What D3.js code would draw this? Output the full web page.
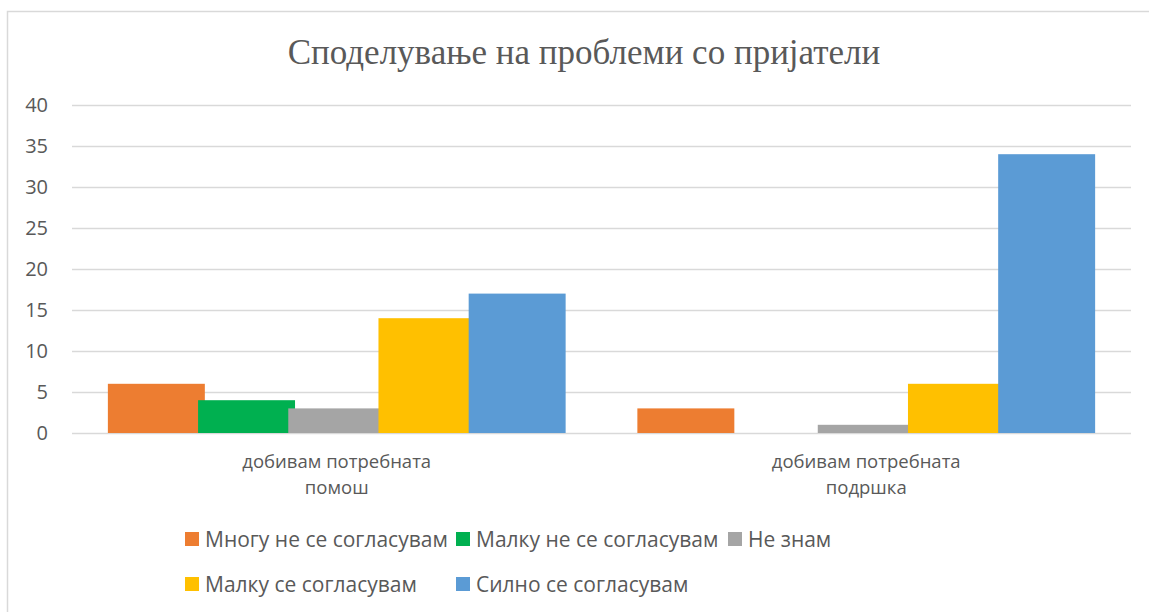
<!DOCTYPE html>
<html><head><meta charset="utf-8">
<script src="https://cdn.jsdelivr.net/npm/d3@7"></script>
<style>html,body{margin:0;padding:0;background:#fff;}svg{display:block;}</style>
</head><body>
<svg id="c" width="1149" height="612"></svg>
<script>
const title = "Споделување на проблеми со пријатели";
const categories = [["добивам потребната","помош"],["добивам потребната","подршка"]];
const series = ["Многу не се согласувам","Малку не се согласувам","Не знам","Малку се согласувам","Силно се согласувам"];
const colors = ["#ED7D31","#00B050","#A5A5A5","#FFC000","#5B9BD5"];
const valuesMnogu = [6, 3];
const valuesMalkuNe = [4, 0];
const valuesNeZnam = [3, 1];
const valuesMalkuSe = [14, 6];
const valuesSilno = [17, 34];
const yTicks = [0,5,10,15,20,25,30,35,40];

const allValues = [valuesMnogu, valuesMalkuNe, valuesNeZnam, valuesMalkuSe, valuesSilno];
const svg = d3.select("#c");
const font = "'Open Sans', 'Noto Sans', sans-serif";
const textColor = "#595959";

// chart border
svg.append("rect").attr("x",7.5).attr("y",11.5).attr("width",1160).attr("height",620)
  .attr("fill","#fff").attr("stroke","#D9D9D9").attr("stroke-width",1.5);

svg.append("text").attr("x",584).attr("y",64).attr("text-anchor","middle")
  .attr("font-family","'Liberation Serif','Times New Roman',serif").attr("font-size",35)
  .attr("fill",textColor).text(title);

const pLeft = 72, pRight = 1131, pTop = 105, pBottom = 433;
const catKeys = categories.map(c => c.join(" "));
const x0 = d3.scaleBand().domain(catKeys).range([pLeft, pRight]).padding(0);
const groupW = 451;
const x1 = d3.scaleBand().domain(series).range([0, groupW]).padding(0);
const barW = x1.bandwidth() * 1.075;
const off = (x0.bandwidth() - (groupW + barW - x1.bandwidth())) / 2;
const y = d3.scaleLinear().domain([0, 40]).range([pBottom, pTop]);

// gridlines
const yAxis = d3.axisLeft(y).tickValues(yTicks).tickSize(-(pRight-pLeft)).tickFormat(d3.format("d"));
const ga = svg.append("g").attr("transform",`translate(${pLeft},0)`).call(yAxis);
ga.select(".domain").remove();
ga.selectAll(".tick line").attr("stroke","#D9D9D9").attr("stroke-width",1.5);
ga.selectAll(".tick text").attr("x",-24).attr("fill",textColor)
  .attr("font-family",font).attr("font-size",20);

// bars
series.forEach((s, si) => {
  svg.append("g").selectAll("rect").data(catKeys).join("rect")
    .attr("x", (c) => x0(c) + off + x1(s))
    .attr("width", barW)
    .attr("y", (c, ci) => y(allValues[si][ci]))
    .attr("height", (c, ci) => y(0) - y(allValues[si][ci]))
    .attr("fill", colors[si]);
});

// category labels
const gx = svg.append("g");
categories.forEach((c, ci) => {
  const cx = x0(catKeys[ci]) + x0.bandwidth()/2;
  c.forEach((line, li) => {
    gx.append("text").attr("x", cx).attr("y", 468 + li*26).attr("text-anchor","middle")
      .attr("fill",textColor).attr("font-family",font).attr("font-size",18.5).text(line);
  });
});

// legend
const lg = svg.append("g");
const rows = [[0,1,2],[3,4]];
const colX = [185, 456, 728];
rows.forEach((r, ri) => {
  r.forEach((si, k) => {
    const gy = 539 + ri*45;
    lg.append("rect").attr("x", colX[k]).attr("y", gy-7).attr("width",14).attr("height",14).attr("fill",colors[si]);
    lg.append("text").attr("x", colX[k]+20).attr("y", gy).attr("dy","0.36em")
      .attr("fill",textColor).attr("font-family",font).attr("font-size",21).text(series[si]);
  });
});
</script>
</body></html>
